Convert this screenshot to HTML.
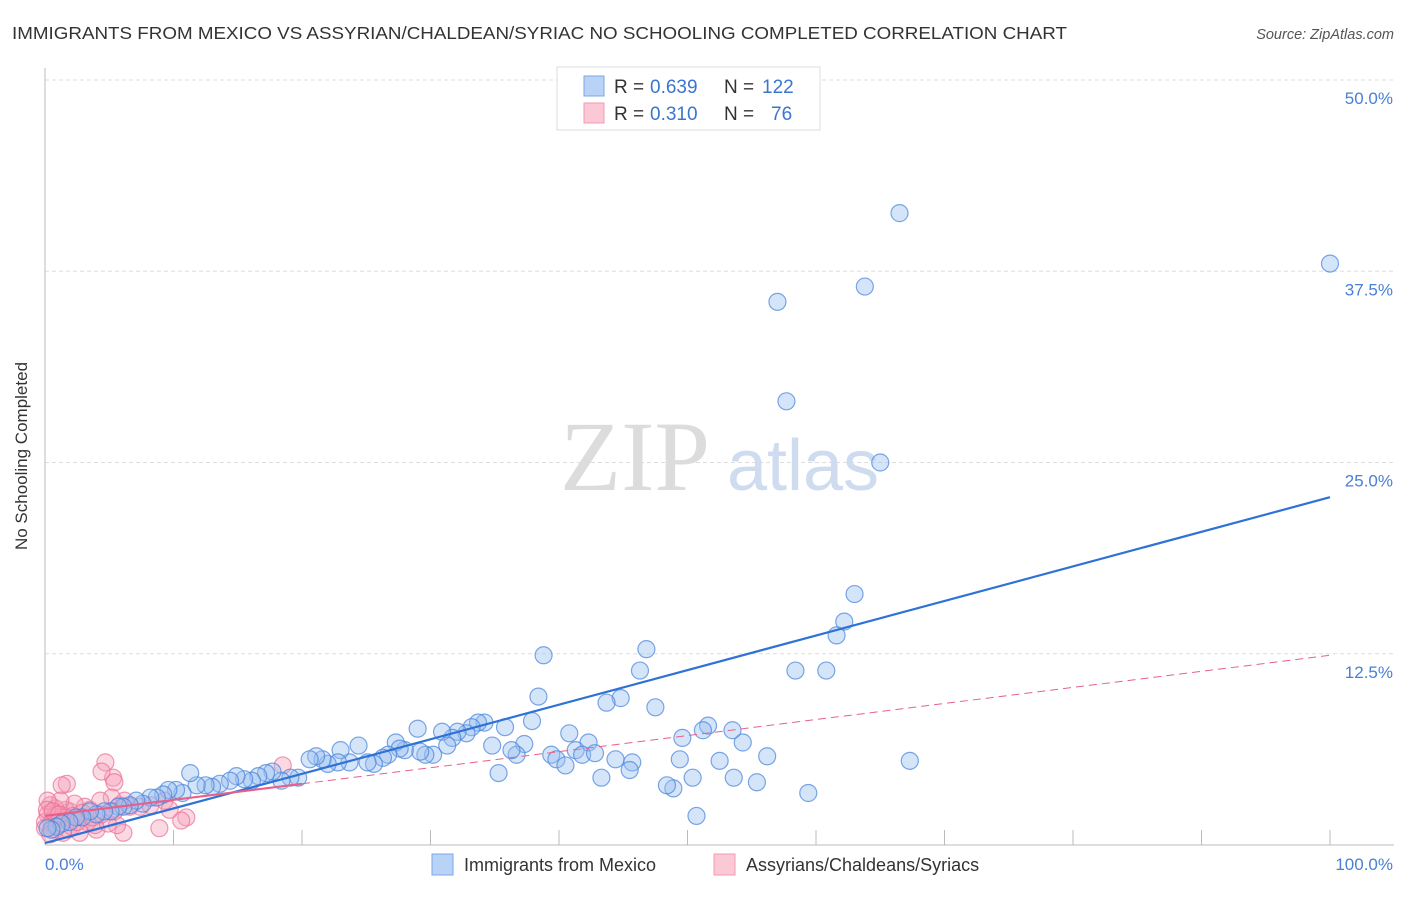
<!DOCTYPE html>
<html><head><meta charset="utf-8"><style>
body{margin:0;background:#fff;font-family:"Liberation Sans",sans-serif}
</style></head><body>
<svg width="1406" height="892" xmlns="http://www.w3.org/2000/svg" font-family="Liberation Sans, sans-serif">
<text x="12" y="39" font-size="17.5" fill="#333" textLength="1055" lengthAdjust="spacingAndGlyphs">IMMIGRANTS FROM MEXICO VS ASSYRIAN/CHALDEAN/SYRIAC NO SCHOOLING COMPLETED CORRELATION CHART</text>
<text x="1394" y="39" font-size="14.5" fill="#555" font-style="italic" text-anchor="end">Source: ZipAtlas.com</text>
<g id="grid"></g>
<g><text x="635" y="490" font-size="100" fill="#dcdcdc" text-anchor="middle" style="font-family:'Liberation Serif',serif">ZIP</text><text x="803" y="490" font-size="72" fill="#cfdcf0" text-anchor="middle">atlas</text></g>
<line x1="45" y1="68" x2="45" y2="845" stroke="#bbb"/>
<line x1="45" y1="845" x2="1394" y2="845" stroke="#bbb"/>
<g id="ticks"></g>
<g id="pink"></g>
<g id="blue"></g>
<g id="lines"></g>
<text x="27" y="456" font-size="17" fill="#333" transform="rotate(-90 27 456)" text-anchor="middle">No Schooling Completed</text>
<text x="45" y="870" font-size="17" fill="#4a7fd6">0.0%</text>
<text x="1393" y="870" font-size="17" fill="#4a7fd6" text-anchor="end">100.0%</text>
<g>
<rect x="557" y="67" width="263" height="63" fill="#fff" stroke="#ddd"/>
<rect x="584" y="76" width="20" height="20" fill="#b8d3f5" stroke="#7aa7e6"/>
<rect x="584" y="103" width="20" height="20" fill="#fbc8d6" stroke="#f09ab3"/>
<text x="614" y="93" font-size="19" fill="#333">R =</text><text x="650" y="93" font-size="19" fill="#3a75d0">0.639</text>
<text x="724" y="93" font-size="19" fill="#333">N =</text><text x="762" y="93" font-size="19" fill="#3a75d0">122</text>
<text x="614" y="120" font-size="19" fill="#333">R =</text><text x="650" y="120" font-size="19" fill="#3a75d0">0.310</text>
<text x="724" y="120" font-size="19" fill="#333">N =</text><text x="771" y="120" font-size="19" fill="#3a75d0">76</text>
</g>
<g>
<rect x="432" y="854" width="21" height="21" fill="#b8d3f5" stroke="#7aa7e6"/>
<text x="464" y="871" font-size="18" fill="#333">Immigrants from Mexico</text>
<rect x="714" y="854" width="21" height="21" fill="#fbc8d6" stroke="#f09ab3"/>
<text x="746" y="871" font-size="18" fill="#333">Assyrians/Chaldeans/Syriacs</text>
</g>
</svg>
<script>
const yTicks=[12.5,25,37.5,50];
const yTickLabels=["12.5%","25.0%","37.5%","50.0%"];
const xTicks=[10,20,30,40,50,60,70,80,90,100];
const blueX=[66.5,100,57.0,63.8,57.7,65.0,63.0,62.2,61.6,60.8,58.4,67.3,59.4,55.4,53.6,56.2,54.3,53.5,51.6,51.2,49.6,52.5,49.4,50.4,48.9,48.4,50.7,46.8,46.3,47.5,44.8,43.7,38.8,38.4,37.9,40.8,42.3,41.3,41.8,42.8,44.4,45.7,45.5,43.3,39.4,39.8,40.5,37.3,36.7,36.3,35.3,34.8,35.8,34.2,33.7,33.2,32.8,32.1,31.7,30.9,31.3,30.2,29.6,29.0,29.2,28.0,27.3,27.6,26.7,26.3,25.6,25.1,24.4,23.7,23.0,22.8,22.0,21.6,21.1,20.6,19.7,19.1,18.4,17.7,17.2,16.6,16.1,15.5,14.9,14.4,13.6,13.0,12.5,11.8,11.3,10.7,10.2,9.6,9.2,8.7,8.2,7.6,7.1,6.6,6.1,5.7,5.1,4.6,4.0,3.5,2.9,2.4,1.9,1.3,0.9,0.5,0.2];
const blueY=[41.3,38.0,35.5,36.5,29.0,25.0,16.4,14.6,13.7,11.4,11.4,5.5,3.4,4.1,4.4,5.8,6.7,7.5,7.8,7.5,7.0,5.5,5.6,4.4,3.7,3.9,1.9,12.8,11.4,9.0,9.6,9.3,12.4,9.7,8.1,7.3,6.7,6.2,5.9,6.0,5.6,5.4,4.9,4.4,5.9,5.6,5.2,6.6,5.9,6.2,4.7,6.5,7.7,8.0,8.0,7.7,7.3,7.4,7.0,7.4,6.5,5.9,5.9,7.6,6.1,6.2,6.7,6.3,5.9,5.7,5.3,5.4,6.5,5.4,6.2,5.4,5.3,5.6,5.8,5.6,4.4,4.4,4.2,4.8,4.7,4.5,4.2,4.3,4.5,4.2,4.0,3.8,3.9,3.9,4.7,3.4,3.6,3.6,3.3,3.1,3.1,2.7,2.9,2.6,2.5,2.5,2.2,2.2,2.0,2.2,1.8,1.8,1.5,1.4,1.2,1.0,1.1];
const pinkX=[4.7,5.3,5.4,4.4,1.7,1.3,18.5,8.9,11.0,10.6,7.4,6.1,5.6,4.0,3.3,2.6,1.9,1.6,0.8,0.4,0.2,0.5,1.0,1.3,1.8,2.1,2.7,3.1,3.5,2.3,1.2,0.2,0.8,1.4,3.9,4.9,5.8,6.6,6.2,5.2,4.3,9.3,8.2,9.7,0.9,1.6,0,0.15,0.6,1.1,2.2,2.9,0,0.4,2.5,3.7,4.4,5.4];
const pinkY=[5.4,4.4,4.1,4.8,4.0,3.9,5.2,1.1,1.8,1.6,2.5,0.8,1.3,1.0,1.5,1.8,2.2,2.3,2.4,2.6,2.0,1.5,1.3,1.8,1.0,1.2,0.8,2.5,2.3,2.7,2.9,2.9,1.0,0.8,1.3,1.4,2.6,2.5,2.9,3.1,2.9,2.9,2.6,2.3,2.0,1.8,1.5,2.3,2.2,2.0,1.9,2.1,1.1,0.7,1.5,1.8,2.0,2.2];
const blueFit=[0.13,0.226];
const pinkFit=[1.9,0.105];
const X=v=>45+v*12.85, Y=v=>845-v*15.3;
const NS="http://www.w3.org/2000/svg";
function mk(t,a,p){const e=document.createElementNS(NS,t);for(const k in a)e.setAttribute(k,a[k]);p.appendChild(e);return e;}
const grid=document.getElementById('grid');
yTicks.forEach((v,i)=>{
 const l=mk('line',{x1:45,x2:1394,y1:Y(v),y2:Y(v),stroke:'#ddd','stroke-dasharray':'4,3'},grid);
 
 
 const t=mk('text',{x:1393,y:Y(v)+24,'font-size':17,fill:'#4a7fd6','text-anchor':'end'},grid);
 t.textContent=yTickLabels[i];
 
 
});
const tk=document.getElementById('ticks');
xTicks.forEach(v=>{
 const l=mk('line',{x1:X(v),x2:X(v),y1:845,y2:830,stroke:'#bbb'},tk);
 
 
});
function pts(xs,ys,g,fill,stroke,name){
 xs.forEach((x,i)=>{
  const c=mk('circle',{cx:X(x),cy:Y(ys[i]),r:8.5,fill:fill,stroke:stroke,'stroke-width':1.2},g);
  
  
 });
}
pts(pinkX,pinkY,document.getElementById('pink'),'rgba(246,160,186,0.4)','rgba(236,110,150,0.7)','point-assyrians');
pts(blueX,blueY,document.getElementById('blue'),'rgba(150,190,240,0.4)','rgba(70,130,220,0.7)','point-mexico');
const lg=document.getElementById('lines');
let e=mk('line',{x1:X(0),y1:Y(blueFit[0]),x2:X(100),y2:Y(blueFit[0]+100*blueFit[1]),stroke:'#2f72d6','stroke-width':2.2},lg);


e=mk('line',{x1:X(0),y1:Y(pinkFit[0]),x2:X(20),y2:Y(pinkFit[0]+20*pinkFit[1]),stroke:'#e8608a','stroke-width':2.2},lg);


e=mk('line',{x1:X(20),y1:Y(pinkFit[0]+20*pinkFit[1]),x2:X(100),y2:Y(pinkFit[0]+100*pinkFit[1]),stroke:'#e8608a','stroke-width':1,'stroke-dasharray':'8,5'},lg);


</script>
</body></html>
